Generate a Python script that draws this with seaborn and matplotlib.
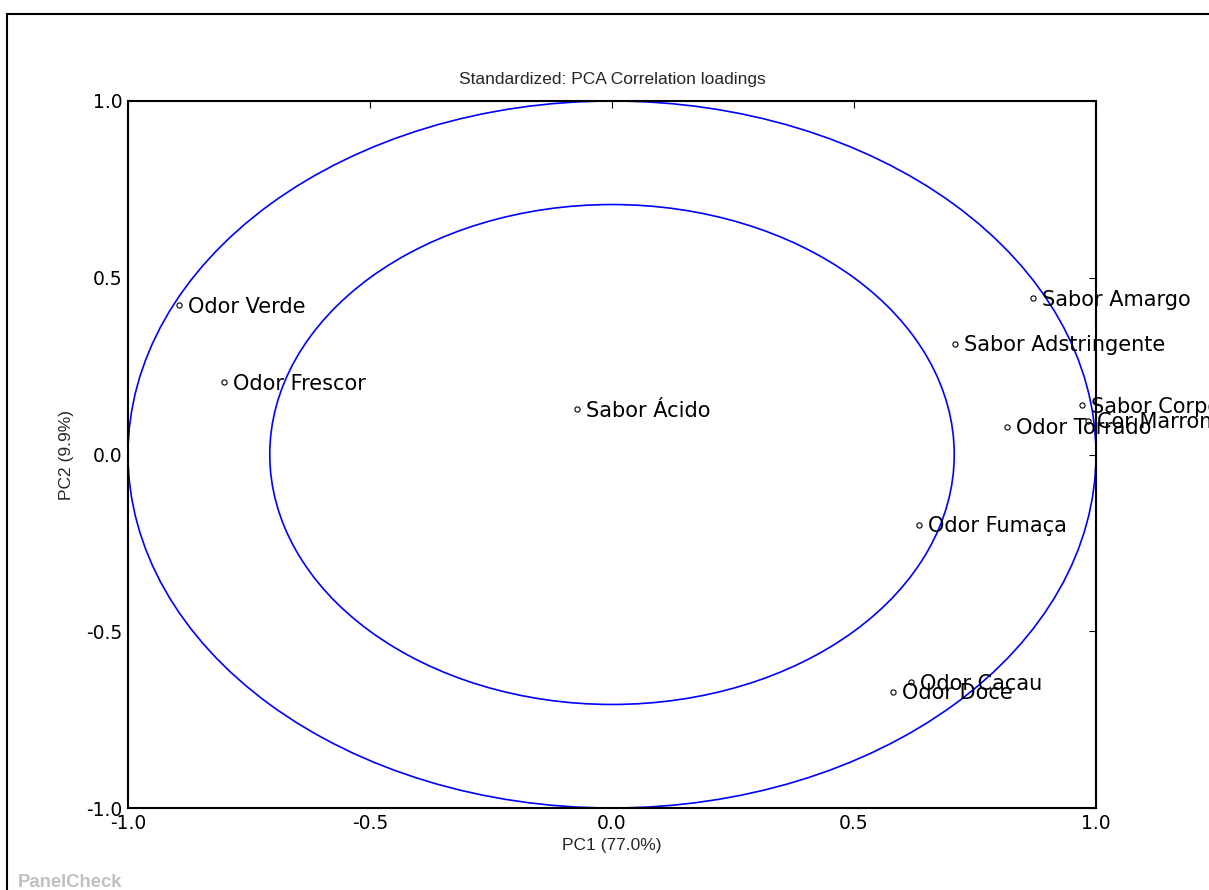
import numpy as np
import pandas as pd
import matplotlib
matplotlib.use("Agg")
import matplotlib.pyplot as plt
from matplotlib import font_manager
from matplotlib.patches import Circle, Rectangle
import seaborn as sns

# PCA correlation loadings (PC1, PC2) per sensory attribute
attributes = [
    "Odor Verde", "Odor Frescor", "Sabor Ácido", "Sabor Amargo",
    "Sabor Adstringente", "Sabor Corpo", "Cor Marrom", "Odor Torrado",
    "Odor Fumaça", "Odor Cacau", "Odor Doce",
]
pc1 = [-0.895, -0.802, -0.072, 0.870, 0.709, 0.971, 0.984, 0.816, 0.634, 0.617, 0.581]
pc2 = [0.422, 0.204, 0.129, 0.443, 0.314, 0.140, 0.096, 0.079, -0.199, -0.644, -0.671]

ticks = [-1.0, -0.5, 0.0, 0.5, 1.0]
tick_labels = ["-1.0", "-0.5", "0.0", "0.5", "1.0"]
circle_radii = [1.0, np.sqrt(0.5)]

title_text = "Standardized: PCA Correlation loadings"
xlabel_text = "PC1 (77.0%)"
ylabel_text = "PC2 (9.9%)"
brand_text = "PanelCheck"

sns.set_style("white")
plt.rcParams.update({
    "font.family": ["DejaVu Sans"],
    "xtick.direction": "in",
    "ytick.direction": "in",
    "xtick.top": True,
    "ytick.right": True,
    "axes.edgecolor": "black",
    "axes.linewidth": 1.5,
})

installed = {f.name for f in font_manager.fontManager.ttflist}
if "Liberation Sans Narrow" in installed:
    label_font, label_size = "Liberation Sans Narrow", 15
else:
    label_font, label_size = "Liberation Sans", 12.5

W, H = 1209, 890
fig = plt.figure(figsize=(W / 100, H / 100), dpi=100)
ax = fig.add_axes([128 / W, 1 - 808 / H, (1096 - 128) / W, (808 - 101) / H])

df = pd.DataFrame({"attribute": attributes, "PC1": pc1, "PC2": pc2})

for r in circle_radii:
    ax.add_patch(Circle((0, 0), r, fill=False, edgecolor="#0000ff", linewidth=1.2, zorder=1))

sns.scatterplot(data=df, x="PC1", y="PC2", ax=ax, s=14, marker="o",
                facecolor="white", edgecolor="black", linewidth=0.8, zorder=3, legend=False)

for name, x, y in zip(attributes, pc1, pc2):
    ax.annotate(name, (x, y), xytext=(6.5, -5.5), textcoords="offset points",
                ha="left", va="baseline", fontsize=15, color="black",
                annotation_clip=False, zorder=4)

ax.set_xlim(-1.0, 1.0)
ax.set_ylim(-1.0, 1.0)
ax.set_xticks(ticks)
ax.set_xticklabels(tick_labels)
ax.set_yticks(ticks)
ax.set_yticklabels(tick_labels)
ax.tick_params(axis="both", which="major", length=5, width=0.8, labelsize=13.5, pad=4,
               colors="black")
for sp in ax.spines.values():
    sp.set_visible(True)
    sp.set_linewidth(1.5)

ax.set_title(title_text, fontfamily=label_font, fontsize=label_size, pad=12)
ax.set_xlabel(xlabel_text, fontfamily=label_font, fontsize=label_size)
ax.set_ylabel(ylabel_text, fontfamily=label_font, fontsize=label_size)
ax.xaxis.set_label_coords(0.5, (808 - 838) / 707)
ax.yaxis.set_label_coords((74 - 128) / 968, 0.5)

fig.text(18 / W, (H - 887) / H, brand_text, fontfamily="Liberation Sans", fontweight="bold",
         fontsize=13.3, color="#c0c0c0", ha="left", va="baseline")

# outer frame around the panel
fig.patches.append(Rectangle((7 / W, -0.1), 1.2, (H - 13.5) / H + 0.1,
                             transform=fig.transFigure, fill=False,
                             edgecolor="black", linewidth=1.5, clip_on=False))

fig.savefig("out.png", dpi=100)
